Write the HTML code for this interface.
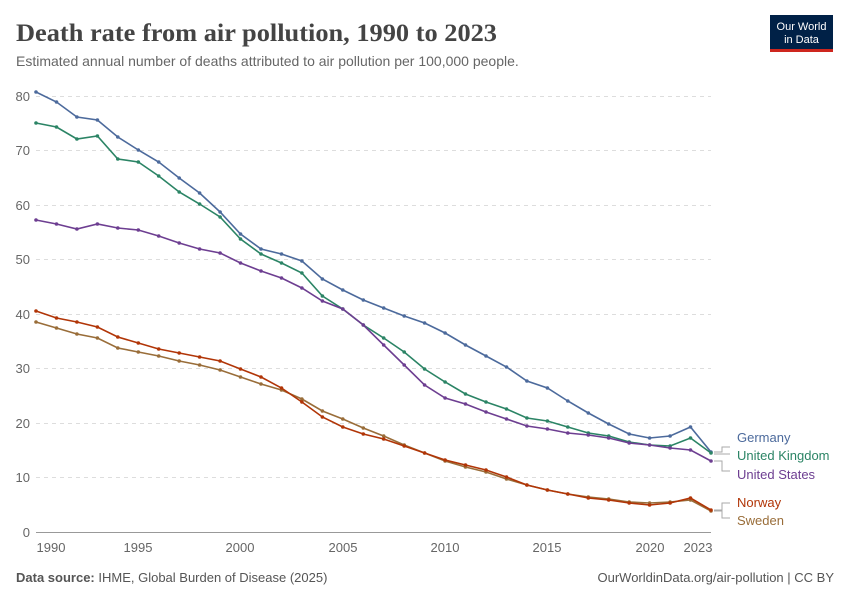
<!DOCTYPE html>
<html><head><meta charset="utf-8"><style>
body{margin:0;background:#fff;width:850px;height:600px;overflow:hidden;font-family:"Liberation Sans",sans-serif}
</style></head><body>
<svg width="850" height="600" xmlns="http://www.w3.org/2000/svg" font-family="Liberation Sans, sans-serif">
<text x="16" y="41" font-family="Liberation Serif, serif" font-size="25" font-weight="bold" fill="#444" textLength="481" lengthAdjust="spacingAndGlyphs">Death rate from air pollution, 1990 to 2023</text>
<text x="16" y="66" font-size="14" fill="#666">Estimated annual number of deaths attributed to air pollution per 100,000 people.</text>
<rect x="770" y="15" width="63" height="35" fill="#002147"/>
<rect x="770" y="49" width="63" height="3" fill="#ce261e"/>
<text x="801.5" y="30" font-size="11" fill="#fff" text-anchor="middle">Our World</text>
<text x="801.5" y="43" font-size="11" fill="#fff" text-anchor="middle">in Data</text>
<g stroke="#ddd" stroke-dasharray="4,4">
<line x1="36" x2="711" y1="96.5" y2="96.5"/><line x1="36" x2="711" y1="150.5" y2="150.5"/>
<line x1="36" x2="711" y1="205.5" y2="205.5"/><line x1="36" x2="711" y1="259.5" y2="259.5"/>
<line x1="36" x2="711" y1="314.5" y2="314.5"/><line x1="36" x2="711" y1="368.5" y2="368.5"/>
<line x1="36" x2="711" y1="423.5" y2="423.5"/><line x1="36" x2="711" y1="477.5" y2="477.5"/>
</g>
<line x1="36" x2="711" y1="532.5" y2="532.5" stroke="#999"/>
<g font-size="13" fill="#666" text-anchor="end">
<text x="30" y="101">80</text><text x="30" y="155">70</text><text x="30" y="210">60</text>
<text x="30" y="264">50</text><text x="30" y="319">40</text><text x="30" y="373">30</text>
<text x="30" y="428">20</text><text x="30" y="482">10</text><text x="30" y="537">0</text>
</g>
<g font-size="13" fill="#666" text-anchor="middle">
<text x="51" y="552">1990</text><text x="138" y="552">1995</text><text x="240" y="552">2000</text>
<text x="343" y="552">2005</text><text x="445" y="552">2010</text><text x="547" y="552">2015</text>
<text x="650" y="552">2020</text><text x="698" y="552">2023</text>
</g>
<g id="series"></g>
<g fill="none" stroke="#aaa" stroke-width="1">
<path d="M714 452 H722 V447 H730"/><path d="M714 454 H730"/><path d="M714 461 H722 V471 H730"/>
<path d="M714 510 H722 V503 H730"/><path d="M714 511 H722 V518 H730"/>
</g>
<g font-size="13">
<text x="737" y="442" fill="#4c6a9c">Germany</text>
<text x="737" y="460" fill="#2b8465">United Kingdom</text>
<text x="737" y="479" fill="#6d3e91">United States</text>
<text x="737" y="507" fill="#b13507">Norway</text>
<text x="737" y="525" fill="#996d39">Sweden</text>
</g>
<text x="16" y="582" font-size="13" fill="#555"><tspan font-weight="bold">Data source:</tspan> IHME, Global Burden of Disease (2025)</text>
<text x="834" y="582" font-size="13" fill="#555" text-anchor="end">OurWorldinData.org/air-pollution | CC BY</text>
</svg>
<script>
var S=[
["#4c6a9c",[92,102,117,120,137,150,162,178,193,212,234,249,254,261,279,290,300,308,316,323,333,345,356,367,381,388,401,413,424,434,438,436,427,452]],
["#2b8465",[123,127,139,136,159,162,176,192,204,217,239,254,263,273,296,309,325,338,352,369,382,394,402,409,418,421,427,433,436,442,445,446,438,453]],
["#6d3e91",[220,224,229,224,228,230,236,243,249,253,263,271,278,288,301,309,325,345,365,385,398,404,412,419,426,429,433,435,438,443,445,448,450,461]],
["#996d39",[322,328,334,338,348,352,356,361,365,370,377,384,390,399,411,419,428,436,445,453,461,467,472,479,485,490,494,497,499,502,503,502,500,511]],
["#b13507",[311,318,322,327,337,343,349,353,357,361,369,377,388,402,417,427,434,439,446,453,460,465,470,477,485,490,494,498,500,503,505,503,498,510]]];
var g=document.getElementById("series"),h="";
S.forEach(function(s){var p=s[1].map(function(y,i){return (36+i*20.4545).toFixed(1)+","+y}).join(" ");
h+='<polyline points="'+p+'" fill="none" stroke="'+s[0]+'" stroke-width="1.6"/>';
s[1].forEach(function(y,i){h+='<circle cx="'+(36+i*20.4545).toFixed(1)+'" cy="'+y+'" r="1.8" fill="'+s[0]+'"/>';});});
g.innerHTML=h;
</script>
</body></html>
